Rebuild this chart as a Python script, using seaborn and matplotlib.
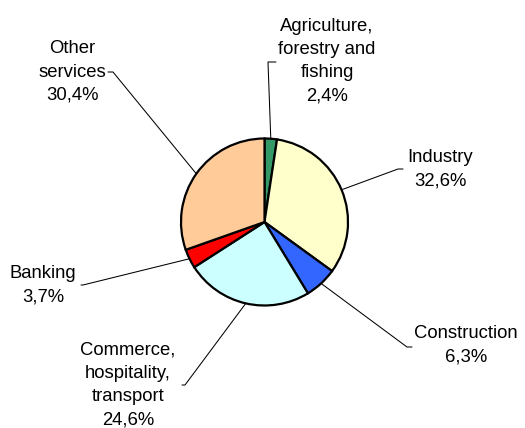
import matplotlib
matplotlib.use("Agg")
import matplotlib.pyplot as plt
import seaborn as sns
import numpy as np

# Sector shares of the economy (%), clockwise from 12 o'clock
sectors = [
    "Agriculture,\nforestry and\nfishing",
    "Industry",
    "Construction",
    "Commerce,\nhospitality,\ntransport",
    "Banking",
    "Other\nservices",
]
shares = [2.4, 32.6, 6.3, 24.6, 3.7, 30.4]
colors = ["#339966", "#FFFFCC", "#3366FF", "#CCFFFF", "#FF0000", "#FFCC99"]

# Label placement in pixel space (top-left origin): text centre, leader knee, leader tail
label_xy = [(327, 61), (440, 169), (466, 345), (128, 385), (43, 285), (72, 72)]
knee_xy = [(268, 62), (398, 169), (407, 347), (185, 385), (83, 285), (113, 72)]
tail_xy = [(276, 62), (403, 169), (412, 347), (182, 385), (81, 285), (108, 72)]

sns.set_theme(style="white")
plt.rcParams["font.family"] = ["Liberation Sans", "DejaVu Sans"]

W, H = 525, 428
fig = plt.figure(figsize=(W / 100, H / 100), dpi=100)
ax = fig.add_axes([0, 0, 1, 1])

cx, cy, r = 264.5, H - 222, 83.5
wedges, _ = ax.pie(
    shares,
    colors=colors,
    startangle=90,
    counterclock=False,
    center=(cx, cy),
    radius=r,
    wedgeprops=dict(edgecolor="black", linewidth=1.6),
    frame=True,
)
ax.set_xlim(0, W)
ax.set_ylim(0, H)
ax.set_aspect("equal")
ax.axis("off")


def fmt(v):
    return f"{v:.1f}".replace(".", ",") + "%"


for w, name, v, (tx, ty), (kx, ky), (ex, ey) in zip(
    wedges, sectors, shares, label_xy, knee_xy, tail_xy
):
    mid = np.deg2rad((w.theta1 + w.theta2) / 2)
    sx, sy = cx + r * np.cos(mid), cy + r * np.sin(mid)
    ax.plot([sx, kx, ex], [sy, H - ky, H - ey], color="black", lw=0.75,
            solid_joinstyle="miter", zorder=0)
    ax.text(tx, H - ty, f"{name}\n{fmt(v)}", ha="center", va="center",
            fontsize=13.3, color="black", linespacing=1.47)

fig.savefig("out.png", dpi=100, facecolor="white")
